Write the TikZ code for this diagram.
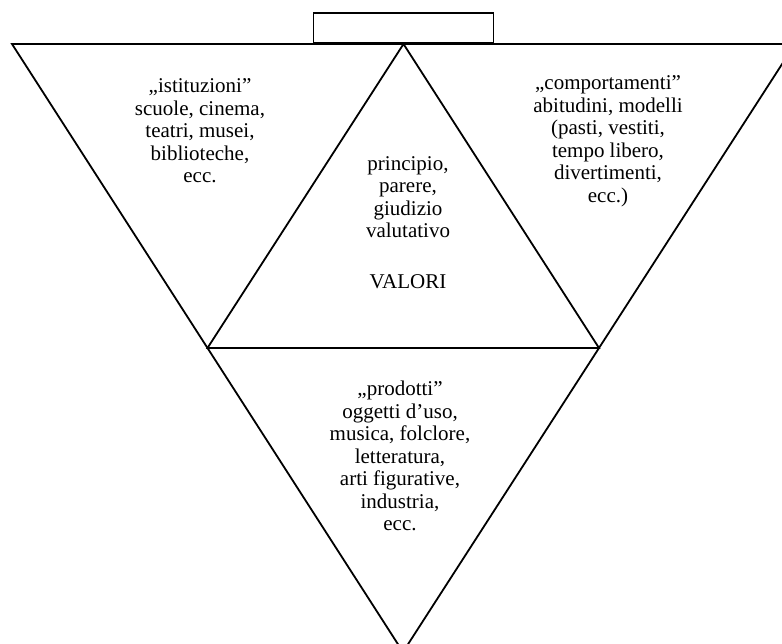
\documentclass[tikz,border=0pt]{standalone}
\usepackage{fontspec}
\setmainfont{Liberation Serif}
\usepackage{tikz}
\usetikzlibrary{calc}
\tikzstyle{field} = [align=center, font=\fontsize{21}{22.5}\selectfont, inner sep=0pt]
\tikzstyle{edge} = [line width=1.8pt, line join=miter]
\tikzstyle{handle} = [rectangle, draw=black, line width=1.8pt, minimum width=180pt, minimum height=30pt, anchor=south]

\begin{document}
\begin{tikzpicture}[x=1pt, y=-1pt]

    \useasboundingbox (0,0) rectangle (782,643);
    \clip (0,0) rectangle (782,643);

    \coordinate (top_left) at (12,44);
    \coordinate (top_right) at (795,44);
    \coordinate (bottom) at (403,652);

    \coordinate (mid_top) at ($(top_left)!0.5!(top_right)$);
    \coordinate (mid_left) at ($(top_left)!0.5!(bottom)$);
    \coordinate (mid_right) at ($(top_right)!0.5!(bottom)$);

    \draw [edge] (top_left) -- (top_right) -- (bottom) -- cycle;

    \draw [edge] (mid_top) -- (mid_left) -- (mid_right) -- cycle;

    \node (lid) [handle] at (mid_top) {};

    \node (istituzioni) [field] at (200,131) {„istituzioni”\\scuole, cinema,\\teatri, musei,\\biblioteche,\\ecc.};

    \node (comportamenti) [field] at (608,141) {„comportamenti”\\abitudini, modelli\\(pasti, vestiti,\\tempo libero,\\divertimenti,\\ecc.)};

    \node (valori_text) [field] at (408,197) {principio,\\parere,\\giudizio\\valutativo};

    \node (valori) [field, below of=valori_text, node distance=85pt] {VALORI};

    \node (prodotti) [field] at (400,456) {„prodotti”\\oggetti d’uso,\\musica, folclore,\\letteratura,\\arti figurative,\\industria,\\ecc.};

\end{tikzpicture}
\end{document}
